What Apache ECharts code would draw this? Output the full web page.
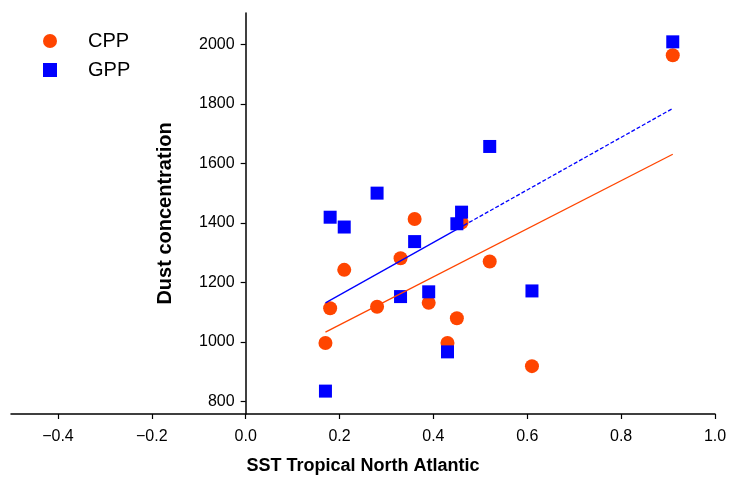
<!DOCTYPE html>
<html>
<head>
<meta charset="utf-8">
<script src="https://cdn.jsdelivr.net/npm/echarts@6/dist/echarts.min.js"></script>
<style>
  html, body { margin: 0; padding: 0; background: #fff; }
  #chart { width: 730px; height: 479px; }
</style>
</head>
<body>
<div id="chart"></div>
<script>
// sea surface temperature anomaly (shared by both groups)
const sstValues = [0.17, 0.18, 0.21, 0.28, 0.33, 0.36, 0.39, 0.43, 0.45, 0.46, 0.52, 0.61, 0.91];
// dust concentration per group
const cppValues = [996, 1113, 1242, 1118, 1281, 1413, 1131, 996, 1079, 1401, 1270, 918, 1964];
const gppValues = [834, 1419, 1386, 1500, 1152, 1337, 1168, 966, 1397, 1436, 1657, 1171, 2009];

const xTicks = [-0.4, -0.2, 0.0, 0.2, 0.4, 0.6, 0.8, 1.0];
const yTicks = [800, 1000, 1200, 1400, 1600, 1800, 2000];

// GPP fit is drawn solid up to here, dashed beyond
const gppDashFrom = 0.465;

const font = "'Liberation Sans', Arial, sans-serif";

const W = 730, H = 479;
const gridL = 11, gridR = 15;
const xMinAxis = -0.5, xMaxAxis = 1.0;

function pairs(xs, ys) {
    return xs.map((x, i) => [x, ys[i]]);
}

// least squares line through the points
function fit(xs, ys) {
    const n = xs.length;
    const mx = xs.reduce((a, b) => a + b, 0) / n;
    const my = ys.reduce((a, b) => a + b, 0) / n;
    let sxy = 0, sxx = 0;
    for (let i = 0; i < n; i++) {
        sxy += (xs[i] - mx) * (ys[i] - my);
        sxx += (xs[i] - mx) * (xs[i] - mx);
    }
    const k = sxy / sxx;
    return x => my + k * (x - mx);
}

const xMin = Math.min(...sstValues);
const xMax = Math.max(...sstValues);
const cppFit = fit(sstValues, cppValues);
const gppFit = fit(sstValues, gppValues);

// y axis sits at x = 0, push it in from the grid's left edge
const yAxisShift = (0 - xMinAxis) / (xMaxAxis - xMinAxis) * (W - gridL - gridR);

const chart = echarts.init(document.getElementById('chart'));

const option = {
    animation: false,
    textStyle: { fontFamily: font },
    grid: { left: gridL, right: gridR, top: 13, bottom: 65, containLabel: false, outerBoundsMode: 'none' },
    legend: {
        orient: 'vertical',
        left: 38,
        top: 26,
        itemWidth: 14,
        itemHeight: 14,
        itemGap: 9,
        textStyle: { fontSize: 20, color: '#000', fontFamily: font, padding: [0, 0, 0, 26] },
        data: [
            { name: 'CPP', icon: 'circle' },
            { name: 'GPP', icon: 'rect' }
        ]
    },
    xAxis: {
        type: 'value',
        min: xMinAxis,
        max: xMaxAxis,
        name: 'SST Tropical North Atlantic',
        nameLocation: 'middle',
        nameGap: 43,
        nameTextStyle: { fontSize: 18, fontWeight: 'bold', color: '#000', fontFamily: font },
        splitLine: { show: false },
        axisLine: { onZero: false, lineStyle: { color: '#000', width: 1.5 } },
        axisTick: { customValues: xTicks, length: 5, lineStyle: { color: '#000', width: 1.2 } },
        axisLabel: {
            customValues: xTicks,
            fontSize: 16,
            color: '#000',
            margin: 15,
            formatter: v => v.toFixed(1).replace('-', '\u2212')
        }
    },
    yAxis: {
        type: 'value',
        min: 757,
        max: 2106,
        offset: -yAxisShift,
        name: 'Dust concentration',
        nameLocation: 'middle',
        nameGap: 70,
        nameTextStyle: { fontSize: 20, fontWeight: 'bold', color: '#000', fontFamily: font },
        splitLine: { show: false },
        axisLine: { onZero: false, lineStyle: { color: '#000', width: 1.5 } },
        axisTick: { customValues: yTicks, length: 5, lineStyle: { color: '#000', width: 1.2 } },
        axisLabel: { customValues: yTicks, fontSize: 16, color: '#000', margin: 11, formatter: v => String(v) }
    },
    series: [
        {
            name: 'CPP',
            type: 'scatter',
            symbol: 'circle',
            symbolSize: 14,
            itemStyle: { color: '#FF4500', opacity: 1 },
            data: pairs(sstValues, cppValues)
        },
        {
            name: 'GPP',
            type: 'scatter',
            symbol: 'rect',
            symbolSize: 13,
            itemStyle: { color: '#0000FF', opacity: 1 },
            data: pairs(sstValues, gppValues)
        },
        {
            name: 'CPP fit',
            type: 'line',
            symbol: 'none',
            silent: true,
            z: 3,
            lineStyle: { color: '#FF4500', width: 1.3 },
            data: [[xMin, cppFit(xMin)], [xMax, cppFit(xMax)]]
        },
        {
            name: 'GPP fit',
            type: 'line',
            symbol: 'none',
            silent: true,
            z: 3,
            lineStyle: { color: '#0000FF', width: 1.3 },
            data: [[xMin, gppFit(xMin)], [gppDashFrom, gppFit(gppDashFrom)]]
        },
        {
            name: 'GPP fit ext',
            type: 'line',
            symbol: 'none',
            silent: true,
            z: 3,
            lineStyle: { color: '#0000FF', width: 1.3, type: [4, 2] },
            data: [[gppDashFrom, gppFit(gppDashFrom)], [xMax, gppFit(xMax)]]
        }
    ]
};

chart.setOption(option);
</script>
</body>
</html>
